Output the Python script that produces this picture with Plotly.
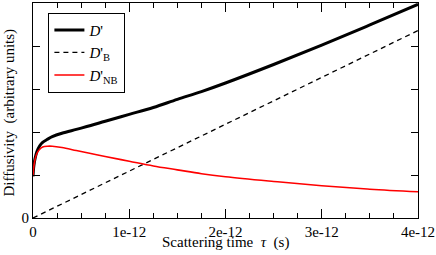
import plotly.graph_objects as go

# Scattering time tau (s)
tau = [0, 0.005e-12, 0.01e-12, 0.02e-12, 0.04e-12, 0.07e-12, 0.1e-12, 0.15e-12, 0.2e-12,
       0.3e-12, 0.45e-12, 0.6e-12, 0.75e-12, 1.0e-12, 1.25e-12, 1.5e-12, 1.75e-12,
       2.0e-12, 2.5e-12, 3.0e-12, 3.5e-12, 4.0e-12]
d_total = [0.97, 1.13, 1.23, 1.37, 1.54, 1.68, 1.76, 1.83, 1.89, 1.97, 2.06, 2.15, 2.25,
           2.41, 2.57, 2.76, 2.94, 3.14, 3.57, 4.02, 4.49, 4.97]
d_nb = [0.97, 1.12, 1.22, 1.35, 1.50, 1.60, 1.65, 1.67, 1.67, 1.64, 1.57, 1.50, 1.43,
        1.32, 1.21, 1.12, 1.03, 0.96, 0.85, 0.75, 0.67, 0.61]
tau_b = [0, 4e-12]
d_b = [0, 4.36]

x_tickvals = [0, 1e-12, 2e-12, 3e-12, 4e-12]
x_ticktext = ["0", "1e-12", "2e-12", "3e-12", "4e-12"]
y_tickvals = [0, 1, 2, 3, 4, 5]
y_ticktext = ["0", "", "", "", "", ""]

FONT = "Liberation Serif"

fig = go.Figure()
fig.add_trace(go.Scatter(x=tau, y=d_total, mode="lines", name="<i>D</i>'",
                         line=dict(color="black", width=3, shape="spline")))
fig.add_trace(go.Scatter(x=tau_b, y=d_b, mode="lines", name="<i>D</i>'<sub>B</sub>",
                         line=dict(color="black", width=1.3, dash="5px,4px")))
fig.add_trace(go.Scatter(x=tau, y=d_nb, mode="lines", name="<i>D</i>'<sub>NB</sub>",
                         line=dict(color="red", width=1.6, shape="spline")))

axis_common = dict(showline=True, linecolor="black", linewidth=1, mirror="allticks",
                   ticks="inside", tickcolor="black", showgrid=False, zeroline=False,
                   automargin=False,
                   tickfont=dict(family=FONT, size=15, color="black"))

fig.update_xaxes(range=[0, 4e-12], tickmode="array", tickvals=x_tickvals, ticktext=x_ticktext,
                 ticklen=9,
                 minor=dict(dtick=0.25e-12, tick0=0, ticks="inside", ticklen=5,
                            tickcolor="black", showgrid=False),
                 **axis_common)
fig.update_yaxes(range=[0, 5], tickmode="array", tickvals=y_tickvals, ticktext=y_ticktext,
                 ticklen=7, **axis_common)

fig.add_annotation(text="Scattering time  <i>τ</i>  (s)", xref="paper", yref="paper",
                   x=0.5, y=-0.112, xanchor="center", yanchor="middle", showarrow=False,
                   font=dict(family=FONT, size=15, color="black"))
fig.add_annotation(text="Diffusivity  (arbitrary units)", xref="paper", yref="paper",
                   x=-0.06, y=0.49, xanchor="center", yanchor="middle", showarrow=False,
                   textangle=-90, font=dict(family=FONT, size=15, color="black"))

fig.update_layout(
    width=436, height=255,
    margin=dict(l=33, r=18, t=3, b=37, autoexpand=False),
    paper_bgcolor="white", plot_bgcolor="white",
    showlegend=True,
    legend=dict(x=0.04, y=0.955, xanchor="left", yanchor="top",
                bgcolor="white", bordercolor="black", borderwidth=1,
                font=dict(family=FONT, size=15, color="black"),
                tracegroupgap=0, itemwidth=30),
)

fig.write_html("out.html", config={"displayModeBar": False},
               post_script="document.body.style.margin='0';document.body.style.padding='0';")
